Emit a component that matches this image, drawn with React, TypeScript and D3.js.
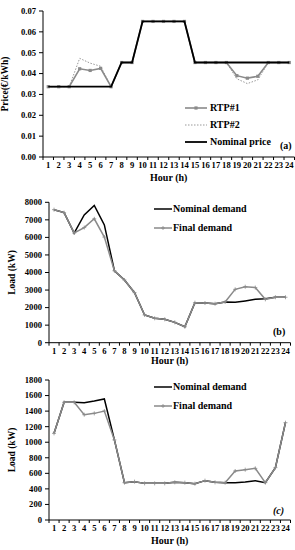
import React from 'react';
import * as d3 from 'd3';

const hours = d3.range(1, 25).map(String);

// panel (a) prices
const nominalPrice = [0.0337, 0.0337, 0.0337, 0.0337, 0.0337, 0.0337, 0.0337, 0.0453, 0.0453, 0.065, 0.065, 0.065, 0.065, 0.065, 0.0453, 0.0453, 0.0453, 0.0453, 0.0453, 0.0453, 0.0453, 0.0453, 0.0453, 0.0453];
const rtp1 = [0.0337, 0.0337, 0.0337, 0.0423, 0.0415, 0.0425, 0.0337, 0.0453, 0.0453, 0.065, 0.065, 0.065, 0.065, 0.065, 0.0453, 0.0453, 0.0453, 0.0453, 0.039, 0.0378, 0.0387, 0.0453, 0.0453, 0.0453];
const rtp2 = [0.0337, 0.0337, 0.0337, 0.0473, 0.045, 0.0435, 0.0337, 0.0453, 0.0453, 0.065, 0.065, 0.065, 0.065, 0.065, 0.0453, 0.0453, 0.0453, 0.0453, 0.0375, 0.0352, 0.037, 0.0453, 0.0453, 0.0453];
const priceTicks = [0, 0.01, 0.02, 0.03, 0.04, 0.05, 0.06, 0.07];

// panel (b) loads
const nominalB = [7580, 7410, 6250, 7280, 7820, 6710, 4100, 3570, 2850, 1580, 1390, 1330, 1160, 910, 2280, 2260, 2220, 2320, 2300, 2380, 2470, 2510, 2590, 2590];
const finalB = [7580, 7410, 6250, 6560, 7060, 6020, 4100, 3570, 2850, 1580, 1390, 1330, 1160, 910, 2280, 2260, 2220, 2320, 3040, 3190, 3140, 2470, 2590, 2590];
const loadTicksB = [0, 1000, 2000, 3000, 4000, 5000, 6000, 7000, 8000];

// panel (c) loads
const nominalC = [1114, 1513, 1513, 1509, 1530, 1556, 1030, 480, 493, 471, 471, 471, 484, 480, 467, 506, 484, 480, 480, 489, 506, 480, 673, 1251];
const finalC = [1114, 1513, 1513, 1354, 1371, 1401, 1030, 480, 493, 471, 471, 471, 484, 480, 467, 506, 484, 480, 630, 647, 664, 480, 673, 1251];
const loadTicksC = [0, 200, 400, 600, 800, 1000, 1200, 1400, 1600, 1800];

const font = '"Liberation Serif", "DejaVu Serif", serif';

type AxesProps = {
  x: d3.ScaleBand<string>;
  y: d3.ScaleLinear<number, number>;
  ticks: number[];
  fmt: (v: number) => string;
  ylabel: string;
  ylabelX: number;
  hourY: number;
};

function Axes({ x, y, ticks, fmt, ylabel, ylabelX, hourY }: AxesProps) {
  const [x0, x1] = x.range();
  const y0 = y(0);
  const bw = x.bandwidth();
  const yMid = (y.range()[0] + y.range()[1]) / 2;
  return (
    <g fontFamily={font} fontWeight="bold" fill="#000">
      <line x1={x0} x2={x0} y1={y0} y2={y(ticks[ticks.length - 1])} stroke="#000" strokeWidth={1} />
      <line x1={x0} x2={x1} y1={y0} y2={y0} stroke="#000" strokeWidth={1} />
      {ticks.map(t => (
        <g key={t}>
          <line x1={x0 - 4} x2={x0} y1={y(t)} y2={y(t)} stroke="#000" />
          <text x={x0 - 7} y={y(t)} dy="0.33em" textAnchor="end" fontSize={8.6}>{fmt(t)}</text>
        </g>
      ))}
      {hours.map((h, i) => (
        <line key={'t' + h} x1={x0 + i * bw} x2={x0 + i * bw} y1={y0} y2={y0 + 3} stroke="#000" />
      ))}
      <line x1={x1} x2={x1} y1={y0} y2={y0 + 3} stroke="#000" />
      {hours.map(h => (
        <text key={'l' + h} x={(x(h) as number) + bw / 2} y={y0 + 11} textAnchor="middle" fontSize={8.6}>{h}</text>
      ))}
      <text x={(x0 + x1) / 2} y={hourY} textAnchor="middle" fontSize={10}>Hour (h)</text>
      <text transform={`translate(${ylabelX},${yMid}) rotate(-90)`} textAnchor="middle" fontSize={9.5}>{ylabel}</text>
    </g>
  );
}

export default function App() {
  const xA = d3.scaleBand<string>().domain(hours).range([43, 294.5]);
  const yA = d3.scaleLinear().domain([0, 0.07]).range([157, 11]);
  const xB = d3.scaleBand<string>().domain(hours).range([49, 290.5]);
  const yB = d3.scaleLinear().domain([0, 8000]).range([342.7, 202.3]);
  const yC = d3.scaleLinear().domain([0, 1800]).range([520, 380]);

  const cx = (s: d3.ScaleBand<string>) => (i: number) => (s(hours[i]) as number) + s.bandwidth() / 2;
  const lineA = (vals: number[]) => d3.line<number>().x((_, i) => cx(xA)(i)).y(d => yA(d))(vals) as string;
  const lineB = (vals: number[], ys: d3.ScaleLinear<number, number>) =>
    d3.line<number>().x((_, i) => cx(xB)(i)).y(d => ys(d))(vals) as string;

  const gray = '#8a8a8a';

  const plusMarks = (vals: number[], ys: d3.ScaleLinear<number, number>) =>
    vals.map((v, i) => (
      <path key={i} d={`M${cx(xB)(i) - 2},${ys(v)}h4M${cx(xB)(i)},${ys(v) - 2}v4`} stroke={gray} strokeWidth={0.8} />
    ));

  return (
    <svg width={295} height={550} style={{ position: 'absolute', left: 0, top: 0, background: '#fff' }}>
      {/* (a) */}
      <Axes x={xA} y={yA} ticks={priceTicks} fmt={d3.format('.2f')} ylabel="Price(€/kWh)" ylabelX={8} hourY={181} />
      <path d={lineA(rtp2)} fill="none" stroke="#999" strokeWidth={1} strokeDasharray="1.5,1.5" />
      <path d={lineA(rtp1)} fill="none" stroke={gray} strokeWidth={1.6} />
      {rtp1.map((v, i) => (
        <rect key={i} x={cx(xA)(i) - 1.6} y={yA(v) - 1.6} width={3.2} height={3.2} fill={gray} />
      ))}
      <path d={lineA(nominalPrice)} fill="none" stroke="#000" strokeWidth={1.8} />
      <g fontFamily={font} fontWeight="bold" fontSize={10}>
        <line x1={185} x2={207} y1={108} y2={108} stroke={gray} strokeWidth={1.6} />
        <rect x={194.4} y={106.4} width={3.2} height={3.2} fill={gray} />
        <text x={210} y={108} dy="0.33em">RTP#1</text>
        <line x1={185} x2={207} y1={125} y2={125} stroke="#999" strokeWidth={1} strokeDasharray="1.5,1.5" />
        <text x={210} y={125} dy="0.33em">RTP#2</text>
        <line x1={185} x2={207} y1={142} y2={142} stroke="#000" strokeWidth={1.8} />
        <text x={210} y={142} dy="0.33em">Nominal price</text>
        <text x={280} y={146} dy="0.33em">(a)</text>
      </g>

      {/* (b) */}
      <Axes x={xB} y={yB} ticks={loadTicksB} fmt={d3.format('d')} ylabel="Load (kW)" ylabelX={15} hourY={364} />
      <path d={lineB(nominalB, yB)} fill="none" stroke="#000" strokeWidth={1.5} />
      <path d={lineB(finalB, yB)} fill="none" stroke={gray} strokeWidth={1.5} />
      {plusMarks(finalB, yB)}
      <g fontFamily={font} fontWeight="bold" fontSize={10}>
        <line x1={154} x2={172} y1={209} y2={209} stroke="#000" strokeWidth={1.5} />
        <text x={173} y={209} dy="0.33em">Nominal demand</text>
        <line x1={154} x2={172} y1={228} y2={228} stroke={gray} strokeWidth={1.5} />
        <path d="M161,228h4M163,226v4" stroke={gray} strokeWidth={0.8} />
        <text x={173} y={228} dy="0.33em">Final demand</text>
        <text x={273} y={332} dy="0.33em">(b)</text>
      </g>

      {/* (c) */}
      <Axes x={xB} y={yC} ticks={loadTicksC} fmt={d3.format('d')} ylabel="Load (kW)" ylabelX={15} hourY={544} />
      <path d={lineB(nominalC, yC)} fill="none" stroke="#000" strokeWidth={1.5} />
      <path d={lineB(finalC, yC)} fill="none" stroke={gray} strokeWidth={1.5} />
      {plusMarks(finalC, yC)}
      <g fontFamily={font} fontWeight="bold" fontSize={10}>
        <line x1={154} x2={172} y1={387} y2={387} stroke="#000" strokeWidth={1.5} />
        <text x={173} y={387} dy="0.33em">Nominal demand</text>
        <line x1={154} x2={172} y1={406} y2={406} stroke={gray} strokeWidth={1.5} />
        <path d="M161,406h4M163,404v4" stroke={gray} strokeWidth={0.8} />
        <text x={173} y={406} dy="0.33em">Final demand</text>
        <text x={273} y={511} dy="0.33em" fontStyle="italic">(c)</text>
      </g>
    </svg>
  );
}
